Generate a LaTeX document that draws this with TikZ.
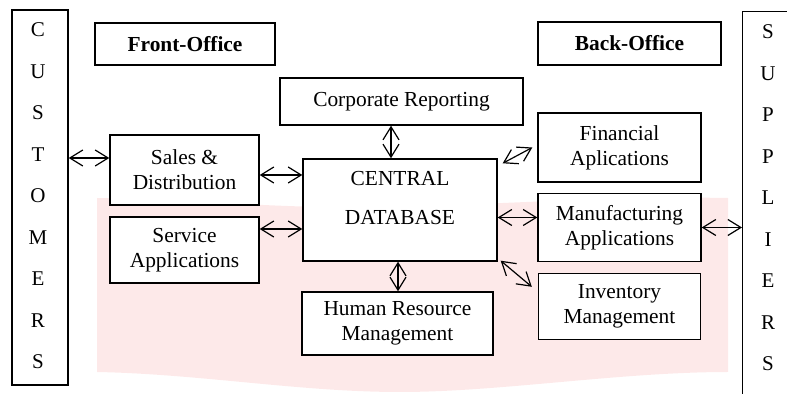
\documentclass[tikz,border=0pt]{standalone}
\usepackage{fontspec}
\setmainfont{Liberation Serif}
\usetikzlibrary{positioning, arrows.meta, calc}

\definecolor{blush}{RGB}{253,233,233}

\tikzset{
    block/.style={draw, line width=0.7pt, fill=white, align=center, inner sep=0pt,
        font=\fontsize{10.7}{12.5}\selectfont},
    title/.style={block, font=\fontsize{10.7}{12.5}\selectfont\bfseries},
    party/.style={draw, line width=0.7pt, fill=white},
    letter/.style={font=\fontsize{10.5}{12}\selectfont},
    link/.style={line width=0.6pt,
        {Straight Barb[length=6.5pt,width=8pt]}-{Straight Barb[length=6.5pt,width=8pt]}},
}

\begin{document}
\begin{tikzpicture}[x=0.5pt, y=-0.5pt, node distance=40pt, on grid]
    \useasboundingbox (0,0) rectangle (787,394);
    % pale band behind the lower row
    \fill[blush] (97,198) .. controls (200,200) and (300,210) .. (400,207)
        .. controls (500,204) and (620,196) .. (728,198) -- (728,372)
        .. controls (620,372) and (500,392) .. (400,392)
        .. controls (300,392) and (200,374) .. (97,372) -- cycle;

    % the two outer parties
    \node[party, minimum width=28pt, minimum height=187.5pt] (customers) at (40,197.5) {};
    \node[party, minimum width=30pt, minimum height=200pt, anchor=north west] (suppliers) at (742,11) {};
    \foreach \ch [count=\i from 0] in {C,U,S,T,O,M,E,R,S}
        \node[letter] (cust\i) at (38,30+41.5*\i) {\ch};
    \foreach \ch [count=\i from 0] in {S,U,P,P,L,I,E,R,S}
        \node[letter] (supp\i) at (768,32+41.5*\i) {\ch};

    \node[title, minimum width=90pt, minimum height=21pt] (front) at (185,44) {Front-Office};
    \node[title, minimum width=91.5pt, minimum height=21.5pt] (back) at (629.5,43.5) {Back-Office};

    % middle column
    \node[block, minimum width=121.5pt, minimum height=23.5pt] (corporate) at (401.5,101.5) {Corporate Reporting};
    \node[block, minimum width=97pt, minimum height=51pt] (central) at (400,210) {};
    \node[block, draw=none, fill=none, anchor=base] (centraltop) at (400,186) {CENTRAL};
    \node[block, draw=none, fill=none, anchor=base] (centralbottom) at (400,225) {DATABASE};
    \node[block, minimum width=95.5pt, minimum height=31.5pt] (hr) at (397.5,323.5) {Human Resource\\Management};

    % front office
    \node[block, minimum width=74.5pt, minimum height=35pt] (sales) at (184.5,170) {Sales \&\\Distribution};
    \node[block, minimum width=74.5pt, minimum height=33pt, below=of sales] (service) {Service\\Applications};

    % back office
    \node[block, minimum width=81.5pt, minimum height=34.5pt] (financial) at (619.5,147.5) {Financial\\Aplications};
    \node[block, minimum width=81.5pt, minimum height=34pt, below=of financial] (manufacturing) {Manufacturing\\Applications};
    \node[block, minimum width=81pt, minimum height=33pt, below=39.5pt of manufacturing] (inventory) {Inventory\\Management};

    % links
    \draw[link] ([yshift=6pt]customers.east |- sales.west) -- ([yshift=6pt]sales.west);
    \draw[link] ([yshift=-2.5pt]sales.east) -- ([yshift=-2.5pt]sales.east -| central.west);
    \draw[link] ([yshift=10.5pt]service.east) -- ([yshift=10.5pt]service.east -| central.west);
    \draw[link] ([xshift=-4.5pt]central.north |- corporate.south) -- ([xshift=-4.5pt]central.north);
    \draw[link] ([xshift=-1pt]central.south) -- ([xshift=-1pt]central.south |- hr.north);
    \draw[link] ([shift={(2.5pt,-2.5pt)}]central.north east) -- ([xshift=-2.5pt]financial.west);
    \draw[link] ([yshift=5pt]manufacturing.west -| central.east) -- ([yshift=5pt]manufacturing.west);
    \draw[link] ([shift={(1.5pt,0.5pt)}]central.south east) -- ([shift={(-3pt,-7pt)}]inventory.north west);
    \draw[link] (manufacturing.east) -- (manufacturing.east -| suppliers.west);
\end{tikzpicture}
\end{document}
